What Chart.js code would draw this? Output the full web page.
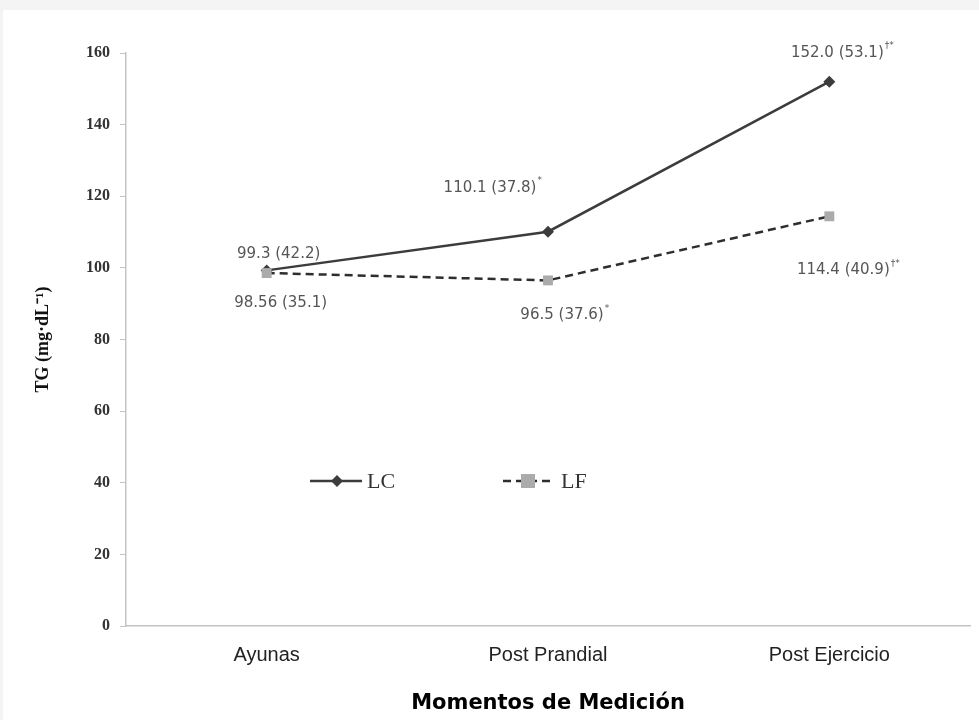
<!DOCTYPE html>
<html>
<head>
<meta charset="utf-8">
<script src="https://cdn.jsdelivr.net/npm/chart.js@4/dist/chart.umd.min.js"></script>
<style>
  html, body { margin: 0; padding: 0; background: #f4f4f4; }
  #wrap { position: absolute; left: 3px; top: 10px; width: 976px; height: 710px; background: #fff; }
</style>
</head>
<body>
<div id="wrap"><canvas id="tg"></canvas></div>
<script>
// Chart data
const categories = ['Ayunas', 'Post Prandial', 'Post Ejercicio'];
const lcValues = [99.3, 110.1, 152.0];
const lfValues = [98.56, 96.5, 114.4];
const lcLabels = ['99.3 (42.2)', '110.1 (37.8)', '152.0 (53.1)'];
const lcMarks = ['', '*', '†*'];
const lfLabels = ['98.56 (35.1)', '96.5 (37.6)', '114.4 (40.9)'];
const lfMarks = ['', '*', '†*'];
const yTicks = [0, 20, 40, 60, 80, 100, 120, 140, 160];

// label placement relative to each point (px)
const labelOffsets = {
  LC: [[12, -16], [-58, -44], [8, -29]],
  LF: [[14, 30], [14, 35], [14, 54]]
};

const valueLabels = {
  id: 'valueLabels',
  afterDatasetsDraw(chart) {
    const ctx = chart.ctx;
    ctx.save();
    ctx.textBaseline = 'middle';
    chart.data.datasets.forEach((ds, i) => {
      const meta = chart.getDatasetMeta(i);
      meta.data.forEach((pt, j) => {
        const off = labelOffsets[ds.label][j];
        const x = pt.x + off[0], y = pt.y + off[1];
        ctx.font = '15px "DejaVu Sans"';
        ctx.fillStyle = '#555';
        ctx.textAlign = 'center';
        const txt = ds.valueText[j];
        ctx.fillText(txt, x, y);
        if (ds.marks[j]) {
          const w = ctx.measureText(txt).width;
          ctx.font = '9px "DejaVu Sans"';
          ctx.textAlign = 'left';
          ctx.fillText(ds.marks[j], x + w / 2 + 1, y - 7);
        }
      });
    });
    ctx.restore();
  }
};

// legend drawn inside the plot, like the original figure
const innerLegend = {
  id: 'innerLegend',
  afterDraw(chart) {
    const ctx = chart.ctx;
    const y = 471;
    ctx.save();
    // LC
    ctx.strokeStyle = '#3c3c3c';
    ctx.lineWidth = 2.5;
    ctx.beginPath(); ctx.moveTo(307, y); ctx.lineTo(359, y); ctx.stroke();
    ctx.fillStyle = '#3c3c3c';
    ctx.beginPath();
    ctx.moveTo(334, y - 6); ctx.lineTo(340, y); ctx.lineTo(334, y + 6); ctx.lineTo(328, y);
    ctx.closePath(); ctx.fill();
    // LF
    ctx.strokeStyle = '#2e2e2e';
    ctx.setLineDash([8, 5]);
    ctx.beginPath(); ctx.moveTo(500, y); ctx.lineTo(552, y); ctx.stroke();
    ctx.setLineDash([]);
    ctx.fillStyle = '#ababab';
    ctx.fillRect(518, y - 7, 14, 14);
    ctx.font = '22px "Liberation Serif"';
    ctx.fillStyle = '#333';
    ctx.textBaseline = 'middle';
    ctx.fillText('LC', 364, y + 1);
    ctx.fillText('LF', 558, y + 1);
    ctx.restore();
  }
};

new Chart(document.getElementById('tg'), {
  type: 'line',
  data: {
    labels: categories,
    datasets: [
      {
        label: 'LC',
        data: lcValues,
        valueText: lcLabels,
        marks: lcMarks,
        borderColor: '#3c3c3c',
        borderWidth: 2.5,
        pointStyle: 'rectRot',
        pointRadius: 6,
        pointBackgroundColor: '#3c3c3c',
        pointBorderWidth: 0,
        tension: 0,
        order: 1
      },
      {
        label: 'LF',
        data: lfValues,
        valueText: lfLabels,
        marks: lfMarks,
        borderColor: '#2e2e2e',
        borderWidth: 2.5,
        borderDash: [8, 5],
        pointStyle: 'rect',
        pointRadius: 7,
        pointBackgroundColor: '#ababab',
        pointBorderWidth: 0,
        tension: 0,
        order: 0
      }
    ]
  },
  options: {
    responsive: true,
    maintainAspectRatio: false,
    animation: false,
    layout: { padding: { left: 0, right: 9, top: 43, bottom: 0 } },
    plugins: {
      legend: { display: false },
      tooltip: { enabled: false }
    },
    scales: {
      x: {
        offset: true,
        grid: { display: false },
        border: { color: '#c4c4c4', width: 1.5 },
        ticks: { color: '#222', font: { family: '"Liberation Sans"', size: 20 }, padding: 9 },
        title: {
          display: true,
          text: 'Momentos de Medición',
          color: '#000',
          font: { family: '"DejaVu Sans"', size: 21, weight: 'bold' },
          padding: { top: 6 }
        },
        afterFit(scale) { scale.height = 94; }
      },
      y: {
        min: 0,
        max: 160,
        afterBuildTicks(scale) { scale.ticks = yTicks.map(v => ({ value: v })); },
        grid: { drawOnChartArea: false, tickLength: 6, color: '#c4c4c4' },
        border: { color: '#c4c4c4', width: 1.5 },
        ticks: { color: '#333', font: { family: '"Liberation Serif"', size: 16, weight: 'bold' }, padding: 10 },
        title: {
          display: true,
          text: 'TG (mg·dL⁻¹)',
          color: '#111',
          font: { family: '"Liberation Serif"', size: 18, weight: 'bold' },
          padding: { top: 30, bottom: 0 }
        },
        afterFit(scale) { scale.width = 123; }
      }
    }
  },
  plugins: [valueLabels, innerLegend]
});
</script>
</body>
</html>
